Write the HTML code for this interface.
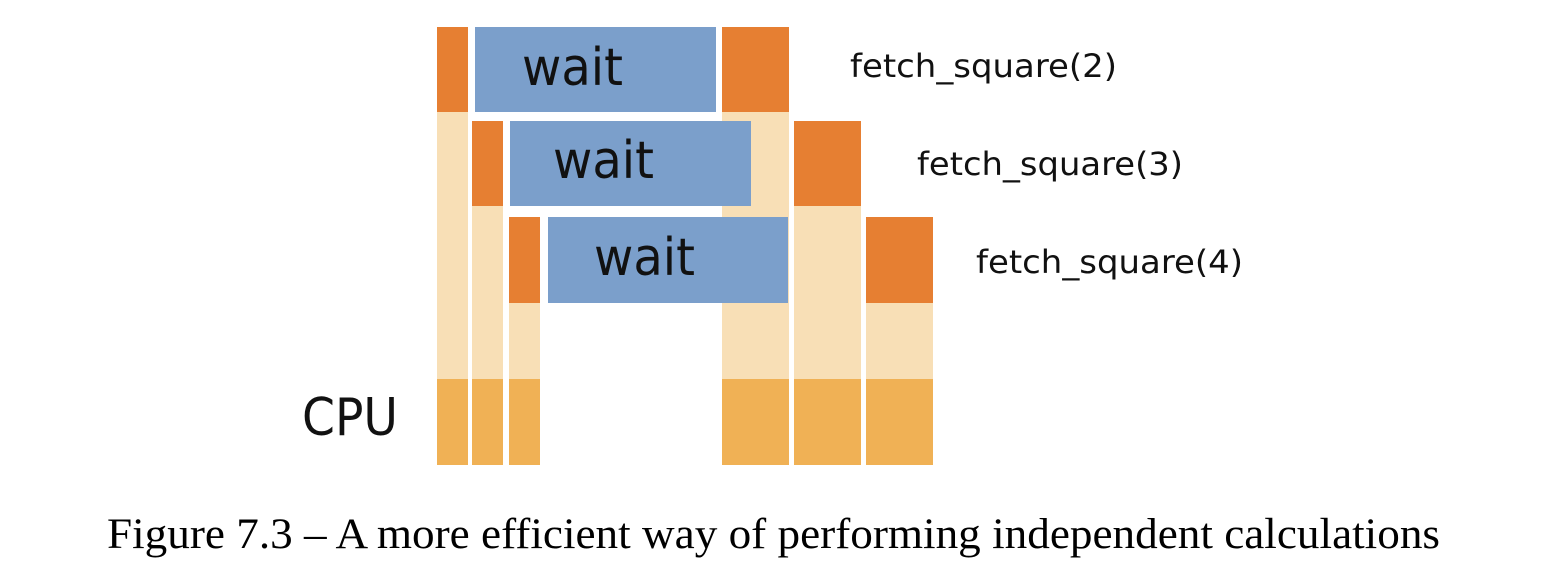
<!DOCTYPE html>
<html><head><meta charset="utf-8"><style>html,body{margin:0;padding:0;background:#fff;}svg{display:block}</style></head>
<body>
<svg width="1558" height="586" viewBox="0 0 1558 586" xmlns="http://www.w3.org/2000/svg">
<g>
<rect x="437" y="112" width="31" height="267" fill="#f8dfb6"/>
<rect x="472" y="206" width="31" height="173" fill="#f8dfb6"/>
<rect x="509" y="303" width="31" height="76" fill="#f8dfb6"/>
<rect x="722" y="112" width="67" height="267" fill="#f8dfb6"/>
<rect x="794" y="206" width="67" height="173" fill="#f8dfb6"/>
<rect x="866" y="303" width="67" height="76" fill="#f8dfb6"/>
<rect x="437" y="379" width="31" height="86" fill="#f0b155"/>
<rect x="472" y="379" width="31" height="86" fill="#f0b155"/>
<rect x="509" y="379" width="31" height="86" fill="#f0b155"/>
<rect x="722" y="379" width="67" height="86" fill="#f0b155"/>
<rect x="794" y="379" width="67" height="86" fill="#f0b155"/>
<rect x="866" y="379" width="67" height="86" fill="#f0b155"/>
<rect x="437" y="27" width="31" height="85" fill="#e67f32"/>
<rect x="472" y="121" width="31" height="85" fill="#e67f32"/>
<rect x="509" y="217" width="31" height="86" fill="#e67f32"/>
<rect x="722" y="27" width="67" height="85" fill="#e67f32"/>
<rect x="794" y="121" width="67" height="85" fill="#e67f32"/>
<rect x="866" y="217" width="67" height="86" fill="#e67f32"/>
<rect x="475" y="27" width="241" height="85" fill="#7b9fcb"/>
<rect x="510" y="121" width="241" height="85" fill="#7b9fcb"/>
<rect x="548" y="217" width="240" height="86" fill="#7b9fcb"/>
</g>
<g font-family="DejaVu Sans, sans-serif" fill="#111">
<text x="522" y="85" font-size="52" textLength="101" lengthAdjust="spacingAndGlyphs">wait</text>
<text x="553" y="178" font-size="52" textLength="101" lengthAdjust="spacingAndGlyphs">wait</text>
<text x="594" y="275" font-size="52" textLength="101" lengthAdjust="spacingAndGlyphs">wait</text>
<text x="850" y="77" font-size="32" textLength="267" lengthAdjust="spacingAndGlyphs">fetch_square(2)</text>
<text x="917" y="175" font-size="32" textLength="266" lengthAdjust="spacingAndGlyphs">fetch_square(3)</text>
<text x="976" y="273" font-size="32" textLength="267" lengthAdjust="spacingAndGlyphs">fetch_square(4)</text>
<text x="302" y="435" font-size="52" textLength="96" lengthAdjust="spacingAndGlyphs">CPU</text>
</g>
<text x="107" y="548" font-family="Liberation Serif, serif" font-size="43" fill="#000" textLength="1333" lengthAdjust="spacingAndGlyphs">Figure 7.3 – A more efficient way of performing independent calculations</text>
</svg>
</body></html>
